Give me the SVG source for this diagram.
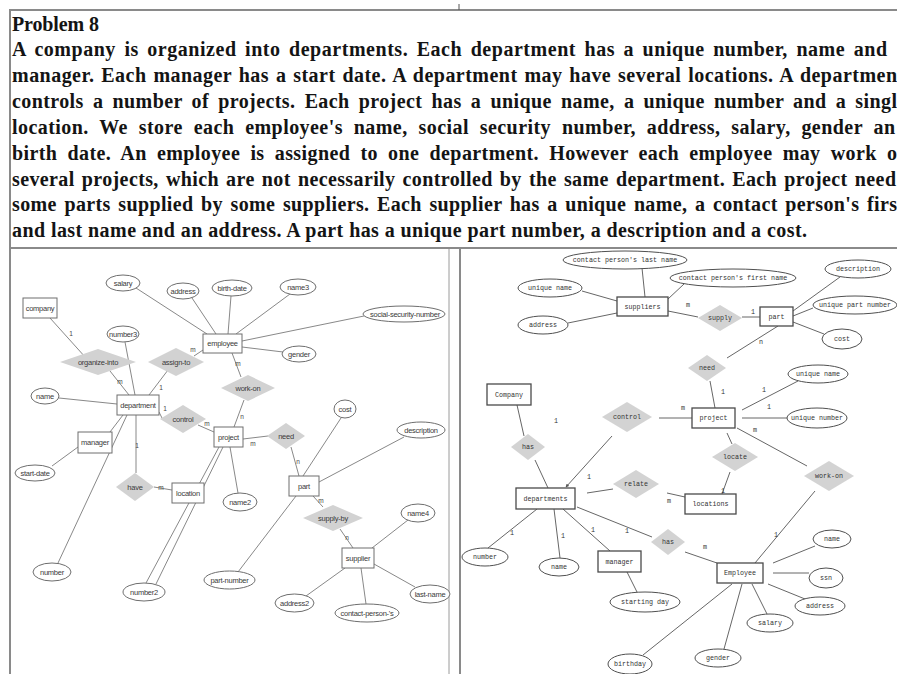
<svg xmlns="http://www.w3.org/2000/svg" width="897" height="674" viewBox="0 0 897 674">
<style>
  .para { font-family: "Liberation Serif", "Times New Roman", serif; font-weight: bold; font-size: 20px; fill: #141414; }
  .frame { stroke: #8a8a8a; stroke-width: 2; fill: none; }
  /* left ER diagram */
  .L ellipse { fill: #fff; stroke: #6e6e6e; stroke-width: 1; }
  .L rect { fill: #fff; stroke: #6e6e6e; stroke-width: 1; }
  .L polygon { fill: #d2d2d2; stroke: none; }
  .L text { font-family: "Liberation Sans", Arial, sans-serif; font-size: 7.5px; fill: #3a3a3a; text-anchor: middle; dominant-baseline: central; letter-spacing: -0.25px; }
  .Lc line { stroke: #7a7a7a; stroke-width: 0.9; }
  .Lk text { font-family: "Liberation Sans", Arial, sans-serif; font-size: 6.5px; fill: #444; text-anchor: middle; dominant-baseline: central; }
  /* right ER diagram */
  .R ellipse { fill: #fff; stroke: #505050; stroke-width: 1; }
  .R rect { fill: #fff; stroke: #4a4a4a; stroke-width: 1.3; }
  .R polygon { fill: #d3d3d3; stroke: none; }
  .R text { font-family: "Liberation Mono", "Courier New", monospace; font-size: 6.7px; fill: #333; text-anchor: middle; dominant-baseline: central; }
  .Rc line { stroke: #555; stroke-width: 0.9; }
  .Rk text { font-family: "Liberation Mono", "Courier New", monospace; font-size: 6.7px; fill: #333; text-anchor: middle; dominant-baseline: central; }
</style>
<defs>
  <marker id="tip" viewBox="0 0 6 6" refX="5" refY="3" markerWidth="4" markerHeight="4" orient="auto">
    <path d="M0,0 L6,3 L0,6 z" fill="#555"/>
  </marker>
</defs>
<rect width="897" height="674" fill="#fff"/>

<!-- page frame -->
<g id="frame">
  <line class="frame" x1="10" y1="10" x2="897" y2="10"/>
  <line class="frame" x1="10" y1="9" x2="10" y2="674"/>
  <line class="frame" x1="10" y1="248" x2="897" y2="248"/>
  <line class="frame" x1="460" y1="248" x2="460" y2="674"/>
  <line x1="449" y1="249" x2="449" y2="674" stroke="#9a9a9a" stroke-width="1"/>
  <line x1="459" y1="4" x2="459" y2="10" stroke="#555" stroke-width="1"/>
</g>

<!-- problem statement -->
<g id="statement" class="para">
  <text x="12" y="31" textLength="87" lengthAdjust="spacing">Problem 8</text>
  <text x="12" y="56" textLength="875" lengthAdjust="spacing" word-spacing="3">A company is organized into departments. Each department has a unique number, name and</text>
  <text x="12" y="82" textLength="885" lengthAdjust="spacing" word-spacing="1.4">manager. Each manager has a start date. A department may have several locations. A departmen</text>
  <text x="12" y="108" textLength="885" lengthAdjust="spacing" word-spacing="3.8">controls a number of projects. Each project has a unique name, a unique number and a singl</text>
  <text x="12" y="134" textLength="883" lengthAdjust="spacing" word-spacing="5.4">location. We store each employee's name, social security number, address, salary, gender an</text>
  <text x="12" y="160" textLength="885" lengthAdjust="spacing" word-spacing="4.8">birth date. An employee is assigned to one department. However each employee may work o</text>
  <text x="12" y="186" textLength="884" lengthAdjust="spacing" word-spacing="1.8">several projects, which are not necessarily controlled by the same department. Each project need</text>
  <text x="12" y="211" textLength="885" lengthAdjust="spacing" word-spacing="2.2">some parts supplied by some suppliers. Each supplier has a unique name, a contact person's firs</text>
  <text x="12" y="237" textLength="795" lengthAdjust="spacing">and last name and an address. A part has a unique part number, a description and a cost.</text>
</g>

<!-- ===== left ER diagram ===== -->
<g id="left-connectors" class="Lc">
  <line x1="136" y1="288" x2="207" y2="334"/>
  <line x1="192" y1="298" x2="216" y2="334"/>
  <line x1="231" y1="296" x2="228" y2="334"/>
  <line x1="290" y1="294" x2="236" y2="334"/>
  <line x1="364" y1="316" x2="242" y2="341"/>
  <line x1="283" y1="352" x2="242" y2="347"/>
  <line x1="50" y1="318" x2="86" y2="358"/>
  <line x1="110" y1="371" x2="129" y2="395"/>
  <line x1="125" y1="342" x2="135" y2="395"/>
  <line x1="168" y1="370" x2="149" y2="395"/>
  <line x1="194" y1="356" x2="203" y2="350"/>
  <line x1="59" y1="398" x2="117" y2="404"/>
  <line x1="159" y1="412" x2="162" y2="418"/>
  <line x1="198" y1="425" x2="214" y2="432"/>
  <line x1="123" y1="415" x2="110" y2="432"/>
  <line x1="78" y1="447" x2="52" y2="466"/>
  <line x1="127" y1="415" x2="58" y2="563"/>
  <line x1="136" y1="415" x2="136" y2="473"/>
  <line x1="154" y1="487" x2="172" y2="490"/>
  <line x1="232" y1="353" x2="241" y2="377"/>
  <line x1="244" y1="400" x2="234" y2="427"/>
  <line x1="243" y1="439" x2="268" y2="436"/>
  <line x1="291" y1="447" x2="299" y2="476"/>
  <line x1="230" y1="447" x2="238" y2="493"/>
  <line x1="219" y1="447" x2="146" y2="583"/>
  <line x1="223" y1="447" x2="156" y2="584"/>
  <line x1="303" y1="476" x2="341" y2="418"/>
  <line x1="319" y1="482" x2="404" y2="437"/>
  <line x1="296" y1="496" x2="238" y2="572"/>
  <line x1="313" y1="496" x2="323" y2="507"/>
  <line x1="340" y1="529" x2="353" y2="548"/>
  <line x1="372" y1="548" x2="408" y2="520"/>
  <line x1="345" y1="568" x2="306" y2="596"/>
  <line x1="361" y1="568" x2="366" y2="604"/>
  <line x1="374" y1="564" x2="415" y2="587"/>
</g>

<g class="L">
  <g id="l-company"><rect x="23" y="298" width="34" height="20"/><text x="40" y="308">company</text></g>
  <g id="l-employee"><rect x="203" y="334" width="39" height="19"/><text x="222.5" y="343.5">employee</text></g>
  <g id="l-department"><rect x="117" y="395" width="42" height="20"/><text x="138" y="405">department</text></g>
  <g id="l-manager"><rect x="78" y="432" width="34" height="21"/><text x="95" y="442.5">manager</text></g>
  <g id="l-location"><rect x="172" y="483" width="32" height="20"/><text x="188" y="493">location</text></g>
  <g id="l-project"><rect x="214" y="427" width="29" height="20"/><text x="228.5" y="437">project</text></g>
  <g id="l-part"><rect x="289" y="476" width="30" height="20"/><text x="304" y="486">part</text></g>
  <g id="l-supplier"><rect x="342" y="548" width="32" height="20"/><text x="358" y="558">supplier</text></g>

  <g id="l-organize-into"><polygon points="60,362 98,349 136,362 98,375"/><text x="98" y="362">organize-into</text></g>
  <g id="l-assign-to"><polygon points="148,362 176,348 204,362 176,376"/><text x="176" y="362">assign-to</text></g>
  <g id="l-control"><polygon points="160,419 183,405 206,419 183,433"/><text x="183" y="419">control</text></g>
  <g id="l-work-on"><polygon points="221,388 248,375 275,388 248,401"/><text x="248" y="388">work-on</text></g>
  <g id="l-need"><polygon points="267,436 286,423 305,436 286,449"/><text x="286" y="436">need</text></g>
  <g id="l-have"><polygon points="116,487 135,473 154,487 135,501"/><text x="135" y="487">have</text></g>
  <g id="l-supply-by"><polygon points="303,518 333,505 363,518 333,531"/><text x="333" y="518">supply-by</text></g>

  <g id="l-salary"><ellipse cx="123" cy="283" rx="17" ry="8"/><text x="123" y="283">salary</text></g>
  <g id="l-address"><ellipse cx="183" cy="291" rx="16" ry="8"/><text x="183" y="291">address</text></g>
  <g id="l-birth-date"><ellipse cx="232" cy="288" rx="20" ry="8"/><text x="232" y="288">birth-date</text></g>
  <g id="l-name3"><ellipse cx="298" cy="287" rx="18" ry="8"/><text x="298" y="287">name3</text></g>
  <g id="l-ssn"><ellipse cx="404" cy="314" rx="41" ry="8"/><text x="405" y="314">social-security-number</text></g>
  <g id="l-gender"><ellipse cx="299" cy="354" rx="17" ry="8"/><text x="299" y="354">gender</text></g>
  <g id="l-number3"><ellipse cx="123" cy="334" rx="16" ry="8"/><text x="123" y="334">number3</text></g>
  <g id="l-name"><ellipse cx="45" cy="396" rx="14" ry="8"/><text x="45" y="396">name</text></g>
  <g id="l-start-date"><ellipse cx="35" cy="473" rx="20" ry="8"/><text x="35" y="473">start-date</text></g>
  <g id="l-number"><ellipse cx="52" cy="572" rx="19" ry="9"/><text x="52" y="572">number</text></g>
  <g id="l-number2"><ellipse cx="144" cy="592" rx="21" ry="9"/><text x="144" y="592">number2</text></g>
  <g id="l-cost"><ellipse cx="345" cy="409" rx="11" ry="9"/><text x="345" y="409">cost</text></g>
  <g id="l-description"><ellipse cx="421" cy="430" rx="24" ry="8"/><text x="421" y="430">description</text></g>
  <g id="l-name2"><ellipse cx="240" cy="502" rx="17" ry="9"/><text x="240" y="502">name2</text></g>
  <g id="l-name4"><ellipse cx="418" cy="513" rx="17" ry="9"/><text x="418" y="513">name4</text></g>
  <g id="l-part-number"><ellipse cx="229.5" cy="580" rx="25.5" ry="9"/><text x="229.5" y="580">part-number</text></g>
  <g id="l-address2"><ellipse cx="294.5" cy="603" rx="19.5" ry="9"/><text x="294.5" y="603">address2</text></g>
  <g id="l-contact-person"><ellipse cx="367" cy="613" rx="32" ry="9"/><text x="367" y="613">contact-person-'s</text></g>
  <g id="l-last-name"><ellipse cx="430" cy="594" rx="20" ry="9"/><text x="430" y="594">last-name</text></g>
</g>

<g id="left-cardinality" class="Lk">
  <text x="71" y="333">1</text>
  <text x="120" y="381">m</text>
  <text x="193" y="349">m</text>
  <text x="161" y="387">1</text>
  <text x="165" y="408">1</text>
  <text x="207" y="423">m</text>
  <text x="238" y="363">m</text>
  <text x="242" y="416">n</text>
  <text x="253" y="443">m</text>
  <text x="298" y="461">n</text>
  <text x="137" y="445">1</text>
  <text x="161" y="487">m</text>
  <text x="321" y="500">m</text>
  <text x="347" y="537">n</text>
</g>

<!-- ===== right ER diagram ===== -->
<g id="right-connectors" class="Rc">
  <line x1="642" y1="268" x2="645" y2="297"/>
  <line x1="582" y1="291" x2="617" y2="301"/>
  <line x1="568" y1="323" x2="617" y2="313"/>
  <line x1="668" y1="299" x2="684" y2="284"/>
  <line x1="668" y1="311" x2="698" y2="317"/>
  <line x1="742" y1="317" x2="760" y2="317"/>
  <line x1="793" y1="311" x2="840" y2="277"/>
  <line x1="793" y1="316" x2="813" y2="308"/>
  <line x1="793" y1="322" x2="824" y2="334"/>
  <line x1="778" y1="326" x2="727" y2="358"/>
  <line x1="710" y1="381" x2="715" y2="408"/>
  <line x1="742" y1="410" x2="798" y2="381"/>
  <line x1="742" y1="418" x2="787" y2="418"/>
  <line x1="659" y1="418" x2="692" y2="418"/>
  <line x1="612" y1="436" x2="566" y2="487" marker-end="url(#tip)"/>
  <line x1="517" y1="405" x2="524" y2="436"/>
  <line x1="535" y1="460" x2="548" y2="488"/>
  <line x1="587" y1="493" x2="613" y2="489"/>
  <line x1="667" y1="493" x2="685" y2="497"/>
  <line x1="730" y1="472" x2="722" y2="494"/>
  <line x1="727" y1="433" x2="732" y2="444"/>
  <line x1="737" y1="428" x2="807" y2="466"/>
  <line x1="815" y1="491" x2="755" y2="563"/>
  <line x1="537" y1="509" x2="488" y2="548"/>
  <line x1="554" y1="509" x2="560" y2="558"/>
  <line x1="563" y1="509" x2="610" y2="551"/>
  <line x1="577" y1="507" x2="652" y2="537"/>
  <line x1="685" y1="552" x2="717" y2="563"/>
  <line x1="627" y1="572" x2="637" y2="592"/>
  <line x1="773" y1="563" x2="815" y2="546"/>
  <line x1="773" y1="573" x2="809" y2="573"/>
  <line x1="768" y1="584" x2="805" y2="599"/>
  <line x1="752" y1="584" x2="767" y2="614"/>
  <line x1="742" y1="584" x2="724" y2="649"/>
  <line x1="732" y1="584" x2="643" y2="655"/>
</g>

<g class="R">
  <g id="r-suppliers"><rect x="617" y="297" width="51" height="19"/><text x="642.5" y="306.5">suppliers</text></g>
  <g id="r-part"><rect x="760" y="307" width="33" height="19"/><text x="776.5" y="316.5">part</text></g>
  <g id="r-company"><rect x="487" y="384" width="44" height="21"/><text x="509" y="394.5">Company</text></g>
  <g id="r-project"><rect x="692" y="408" width="43" height="20"/><text x="713.5" y="418">project</text></g>
  <g id="r-locations"><rect x="685" y="494" width="51" height="20"/><text x="710.5" y="504">locations</text></g>
  <g id="r-departments"><rect x="516" y="488" width="59" height="21"/><text x="545.5" y="498.5">departments</text></g>
  <g id="r-manager"><rect x="598" y="551" width="43" height="21"/><text x="619.5" y="561.5">manager</text></g>
  <g id="r-employee"><rect x="717" y="563" width="46" height="20"/><text x="740" y="573">Employee</text></g>

  <g id="r-supply"><polygon points="698,318 720,305 742,318 720,331"/><text x="720" y="318">supply</text></g>
  <g id="r-need"><polygon points="688,368 707,355 726,368 707,381"/><text x="707" y="368">need</text></g>
  <g id="r-control"><polygon points="602,417 627,402 652,417 627,432"/><text x="627" y="417">control</text></g>
  <g id="r-has-company"><polygon points="511,447 528,434 545,447 528,460"/><text x="528" y="447">has</text></g>
  <g id="r-locate"><polygon points="712,457 735,443 758,457 735,471"/><text x="735" y="457">locate</text></g>
  <g id="r-work-on"><polygon points="804,476 829,461 854,476 829,491"/><text x="829" y="476">work-on</text></g>
  <g id="r-relate"><polygon points="613,484 636,470 659,484 636,498"/><text x="636" y="484">relate</text></g>
  <g id="r-has-employee"><polygon points="651,542 668,529 685,542 668,555"/><text x="668" y="542">has</text></g>

  <g id="r-last-name"><ellipse cx="625" cy="260" rx="62" ry="9"/><text x="625" y="260">contact person's last name</text></g>
  <g id="r-unique-name-s"><ellipse cx="550" cy="288" rx="32" ry="9"/><text x="550" y="288">unique name</text></g>
  <g id="r-address-s"><ellipse cx="543" cy="325" rx="25" ry="9"/><text x="543" y="325">address</text></g>
  <g id="r-first-name"><ellipse cx="733" cy="278" rx="63" ry="9"/><text x="733" y="278">contact person's first name</text></g>
  <g id="r-description"><ellipse cx="858" cy="269" rx="33" ry="9"/><text x="858" y="269">description</text></g>
  <g id="r-unique-part-number"><ellipse cx="855" cy="305" rx="42" ry="9"/><text x="855" y="305">unique part number</text></g>
  <g id="r-cost"><ellipse cx="842" cy="339" rx="20" ry="10"/><text x="842" y="339">cost</text></g>
  <g id="r-unique-name-p"><ellipse cx="818" cy="374" rx="30" ry="9"/><text x="818" y="374">unique name</text></g>
  <g id="r-unique-number"><ellipse cx="817" cy="418" rx="30" ry="10"/><text x="817" y="418">unique number</text></g>
  <g id="r-number"><ellipse cx="485" cy="557" rx="23" ry="9"/><text x="485" y="557">number</text></g>
  <g id="r-name-d"><ellipse cx="559" cy="567" rx="20" ry="9"/><text x="559" y="567">name</text></g>
  <g id="r-starting-day"><ellipse cx="645" cy="602" rx="35" ry="10"/><text x="645" y="602">starting day</text></g>
  <g id="r-birthday"><ellipse cx="630" cy="664" rx="22" ry="10"/><text x="630" y="664">birthday</text></g>
  <g id="r-name-e"><ellipse cx="832" cy="539" rx="19" ry="9"/><text x="832" y="539">name</text></g>
  <g id="r-ssn"><ellipse cx="826" cy="578" rx="17" ry="10"/><text x="826" y="578">ssn</text></g>
  <g id="r-address-e"><ellipse cx="820" cy="606" rx="25" ry="9"/><text x="820" y="606">address</text></g>
  <g id="r-salary"><ellipse cx="770" cy="623" rx="23" ry="9"/><text x="770" y="623">salary</text></g>
  <g id="r-gender"><ellipse cx="718" cy="658" rx="23" ry="9"/><text x="718" y="658">gender</text></g>
</g>

<g id="right-cardinality" class="Rk">
  <text x="556" y="421">1</text>
  <text x="688" y="305">m</text>
  <text x="753" y="312">1</text>
  <text x="761" y="342">n</text>
  <text x="723" y="392">1</text>
  <text x="764" y="390">1</text>
  <text x="769" y="407">1</text>
  <text x="683" y="408">m</text>
  <text x="755" y="430">m</text>
  <text x="723" y="491">1</text>
  <text x="669" y="501">m</text>
  <text x="589" y="477">1</text>
  <text x="776" y="535">1</text>
  <text x="705" y="547">m</text>
  <text x="512" y="533">1</text>
  <text x="563" y="536">1</text>
  <text x="593" y="530">1</text>
  <text x="627" y="531">1</text>
</g>
</svg>
